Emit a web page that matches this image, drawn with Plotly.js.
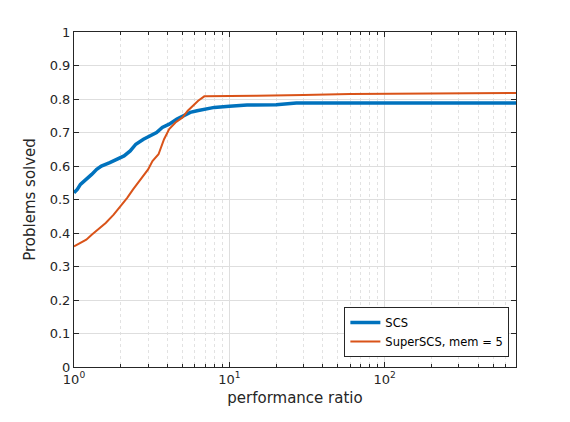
<!DOCTYPE html>
<html>
<head>
<meta charset="utf-8">
<script src="https://cdn.plot.ly/plotly-3.0.1.min.js"></script>
<style>html,body{margin:0;padding:0;background:#fff}#chart{width:570px;height:422px}</style>
</head>
<body>
<div id="chart"></div>
<script>
// Performance profile: fraction of problems solved vs performance ratio
const scsRatio = [1, 1.05, 1.1, 1.2, 1.3, 1.4, 1.5, 1.7, 1.9, 2.1, 2.3, 2.5, 2.8, 3.1, 3.4, 3.7, 4.1, 4.6, 5.1, 5.6, 6.2, 7, 8, 10, 13, 20, 27, 40, 100, 700];
const scsSolved = [0.52, 0.53, 0.545, 0.56, 0.575, 0.59, 0.6, 0.61, 0.62, 0.63, 0.645, 0.665, 0.68, 0.69, 0.70, 0.715, 0.725, 0.74, 0.75, 0.76, 0.765, 0.77, 0.775, 0.778, 0.782, 0.783, 0.788, 0.788, 0.788, 0.788];
const superRatio = [1, 1.1, 1.2, 1.3, 1.45, 1.6, 1.8, 2.0, 2.2, 2.4, 2.7, 3.0, 3.2, 3.5, 3.8, 4.1, 4.5, 5.0, 5.4, 5.8, 6.3, 6.9, 10, 15, 30, 60, 700];
const superSolved = [0.36, 0.37, 0.38, 0.395, 0.415, 0.43, 0.455, 0.48, 0.505, 0.53, 0.56, 0.59, 0.615, 0.635, 0.68, 0.71, 0.73, 0.745, 0.765, 0.78, 0.795, 0.808, 0.808, 0.81, 0.812, 0.815, 0.818];
const yTicks = [0, 0.1, 0.2, 0.3, 0.4, 0.5, 0.6, 0.7, 0.8, 0.9, 1];
const yTickText = ['0', '0.1', '0.2', '0.3', '0.4', '0.5', '0.6', '0.7', '0.8', '0.9', '1'];
const xTicks = [1, 10, 100];
const xTickText = ['10<sup>0</sup>', '10<sup>1</sup>', '10<sup>2</sup>'];
const xMinor = [2, 3, 4, 5, 6, 7, 8, 9, 20, 30, 40, 50, 60, 70, 80, 90, 200, 300, 400, 500, 600, 700];

const traces = [
  { x: scsRatio, y: scsSolved, type: 'scatter', mode: 'lines', name: 'SCS',
    line: { color: '#0072BD', width: 3.5 } },
  { x: superRatio, y: superSolved, type: 'scatter', mode: 'lines', name: 'SuperSCS, mem = 5',
    line: { color: '#D95319', width: 2 } },
];

const axisCommon = {
  showline: true, mirror: 'ticks', linecolor: '#262626', linewidth: 1,
  ticks: 'inside', ticklen: 5, tickcolor: '#262626',
  showgrid: true, gridcolor: '#dedede', gridwidth: 1, zeroline: false,
  tickfont: { size: 13, color: '#262626' },
};

const layout = {
  width: 570, height: 422,
  margin: { l: 74, r: 54, t: 32, b: 55 },
  paper_bgcolor: '#fff', plot_bgcolor: '#fff',
  font: { family: 'DejaVu Sans, sans-serif', color: '#262626' },
  showlegend: true,
  legend: {
    x: 0.985, y: 0.03, xanchor: 'right', yanchor: 'bottom',
    bgcolor: '#fff', bordercolor: '#262626', borderwidth: 1,
    font: { size: 11.5, color: '#000' }, tracegroupgap: 0,
  },
  xaxis: Object.assign({}, axisCommon, {
    type: 'log', range: [0, Math.log10(700)],
    tickvals: xTicks, ticktext: xTickText,
    minor: { tickvals: xMinor, showgrid: true, gridcolor: '#e2e2e2', griddash: 'dot', ticks: 'inside', ticklen: 3, tickcolor: '#262626' },
    title: { text: 'performance ratio', font: { size: 15, color: '#262626' }, standoff: 6 },
  }),
  yaxis: Object.assign({}, axisCommon, {
    range: [0, 1], tickvals: yTicks, ticktext: yTickText,
    title: { text: 'Problems solved', font: { size: 15, color: '#262626' }, standoff: 10 },
  }),
};

Plotly.newPlot('chart', traces, layout, { displayModeBar: false, staticPlot: true });
</script>
</body>
</html>
